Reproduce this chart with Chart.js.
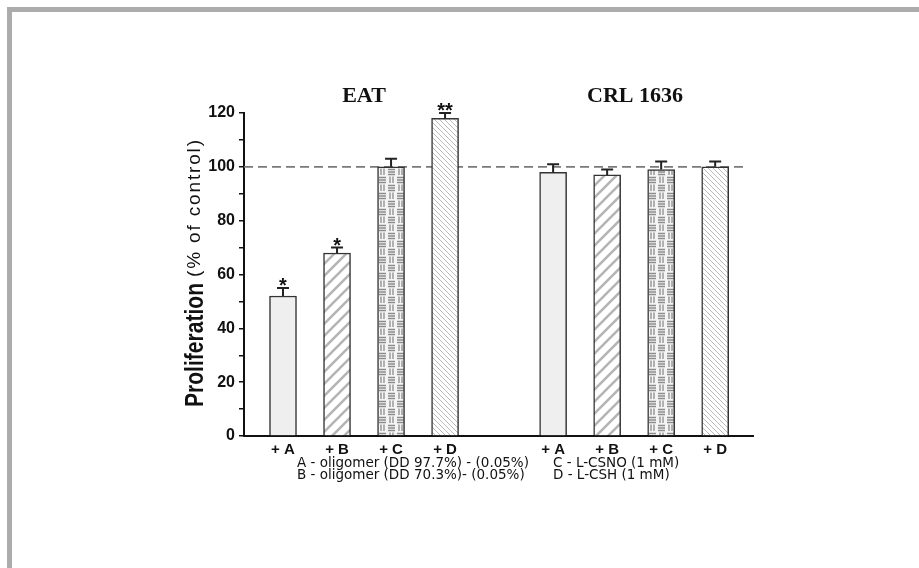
<!DOCTYPE html>
<html>
<head>
<meta charset="utf-8">
<script src="https://cdn.jsdelivr.net/npm/chart.js@4.4.0/dist/chart.umd.min.js"></script>
<style>
	html, body { margin: 0; padding: 0; background: #fff; }
	#frameTop { position: absolute; left: 7px; top: 7px; width: 912px; height: 5px; background: #acacac; }
	#frameLeft { position: absolute; left: 7px; top: 7px; width: 5px; height: 561px; background: #acacac; }
	#myChart { position: absolute; left: 0; top: 0; }
</style>
</head>
<body>
<div id="frameTop"></div>
<div id="frameLeft"></div>
<canvas id="myChart" width="919" height="568"></canvas>
<script>
// groups and treatments
const groups = ["EAT", "CRL 1636"];
const treatments = ["+ A", "+ B", "+ C", "+ D"];

// proliferation values (% of control) and upper error
const eatValues = [52, 68, 100, 118];
const eatErrors = [3, 2, 3, 2];
const eatStars = ["*", "*", "", "**"];

const crlValues = [98, 97, 99, 100];
const crlErrors = [3, 2, 3, 2];
const crlStars = ["", "", "", ""];

const yTicks = [0, 20, 40, 60, 80, 100, 120];
const controlLevel = 100;

const legendLines = [
	["A - oligomer (DD 97.7%) - (0.05%)", "C - L-CSNO (1 mM)"],
	["B - oligomer (DD 70.3%)- (0.05%)", "D - L-CSH (1 mM)"]
];

// position of each bar on the x scale (gap of one slot between groups)
const xPositions = [0, 1, 2, 3, 5, 6, 7, 8];
const xLabels = treatments.concat(treatments);
const allValues = eatValues.concat(crlValues);
const allErrors = eatErrors.concat(crlErrors);
const allStars = eatStars.concat(crlStars);

/* 패턴 만들기 */
function makePattern(kind) {
	const c = document.createElement("canvas");
	const g = c.getContext("2d");
	if (kind === "solid") {
		c.width = 4; c.height = 4;
		g.fillStyle = "#efefef";
		g.fillRect(0, 0, 4, 4);
	} else if (kind === "slash") {
		c.width = 12; c.height = 12;
		g.fillStyle = "#ffffff";
		g.fillRect(0, 0, 12, 12);
		g.strokeStyle = "#b5b5b5";
		g.lineWidth = 2.6;
		g.beginPath();
		g.moveTo(-2, 14); g.lineTo(14, -2);
		g.moveTo(-2, 2); g.lineTo(2, -2);
		g.moveTo(10, 14); g.lineTo(14, 10);
		g.stroke();
	} else if (kind === "brick") {
		c.width = 18; c.height = 16;
		g.fillStyle = "#f4f4f4";
		g.fillRect(0, 0, 18, 16);
		g.strokeStyle = "#8c8c8c";
		g.lineWidth = 1.3;
		g.beginPath();
		// row 1: horizontal lines then vertical lines
		for (let k = 0; k < 3; k++) { g.moveTo(1, 1.5 + k * 2.5); g.lineTo(8, 1.5 + k * 2.5); }
		for (let k = 0; k < 2; k++) { g.moveTo(12 + k * 3, 0.5); g.lineTo(12 + k * 3, 7); }
		// row 2: swapped
		for (let k = 0; k < 2; k++) { g.moveTo(3 + k * 3, 8.5); g.lineTo(3 + k * 3, 15); }
		for (let k = 0; k < 3; k++) { g.moveTo(10, 9.5 + k * 2.5); g.lineTo(17, 9.5 + k * 2.5); }
		g.stroke();
	} else {
		c.width = 5; c.height = 5;
		g.fillStyle = "#ffffff";
		g.fillRect(0, 0, 5, 5);
		g.strokeStyle = "#a8a8a8";
		g.lineWidth = 0.8;
		g.beginPath();
		g.moveTo(-1, -1); g.lineTo(6, 6);
		g.moveTo(-1, 4); g.lineTo(1, 6);
		g.moveTo(4, -1); g.lineTo(6, 1);
		g.stroke();
	}
	return g.createPattern(c, "repeat");
}

const patterns = [makePattern("solid"), makePattern("slash"), makePattern("brick"), makePattern("back")];
const barFills = patterns.concat(patterns);

// 에러바 + 별표
const errorBarPlugin = {
	id: "errorBars",
	afterDatasetsDraw(chart) {
		const ctx = chart.ctx;
		const yScale = chart.scales.y;
		const meta = chart.getDatasetMeta(1);
		ctx.save();
		ctx.strokeStyle = "#222";
		ctx.lineWidth = 2;
		meta.data.forEach((bar, i) => {
			const top = yScale.getPixelForValue(allValues[i] + allErrors[i]);
			ctx.beginPath();
			ctx.moveTo(bar.x, bar.y);
			ctx.lineTo(bar.x, top);
			ctx.moveTo(bar.x - 6, top);
			ctx.lineTo(bar.x + 6, top);
			ctx.stroke();
			if (allStars[i]) {
				ctx.fillStyle = "#111";
				ctx.font = "bold 20px 'Liberation Sans'";
				ctx.textAlign = "center";
				ctx.textBaseline = "alphabetic";
				ctx.fillText(allStars[i], bar.x, top + 4);
			}
		});
		ctx.restore();
	}
};

// 제목, y축 제목, 범례 글자
const textPlugin = {
	id: "texts",
	afterDraw(chart) {
		const ctx = chart.ctx;
		ctx.save();
		ctx.fillStyle = "#111";
		ctx.font = "bold 22px 'Liberation Serif'";
		ctx.textAlign = "center";
		ctx.textBaseline = "alphabetic";
		ctx.fillText(groups[0], 364, 102);
		ctx.fillText(groups[1], 635, 102);

		// y axis title
		ctx.translate(203, 273);
		ctx.rotate(-Math.PI / 2);
		ctx.textAlign = "left";
		ctx.font = "bold 26px 'Liberation Sans'";
		const w1 = ctx.measureText("Proliferation").width;
		ctx.save();
		ctx.translate(-134, 0);
		ctx.scale(124 / w1, 1);
		ctx.fillText("Proliferation", 0, 0);
		ctx.restore();
		ctx.font = "19px 'Liberation Sans'";
		const sub = "(% of control)";
		const w2 = ctx.measureText(sub).width;
		const gap = (137 - w2) / (sub.length - 1);
		let px = -4;
		for (const ch of sub) {
			ctx.fillText(ch, px, -3);
			px += ctx.measureText(ch).width + gap;
		}
		ctx.restore();

		// legend lines under the axis
		ctx.save();
		ctx.fillStyle = "#111";
		ctx.font = "13.5px 'DejaVu Sans'";
		ctx.textAlign = "left";
		ctx.textBaseline = "middle";
		legendLines.forEach((line, i) => {
			ctx.fillText(line[0], 297, 463 + i * 12);
			ctx.fillText(line[1], 553, 463 + i * 12);
		});
		ctx.restore();
	}
};

const ctx = document.getElementById("myChart").getContext("2d");
const myChart = new Chart(ctx, {
	type: "bar",
	data: {
		datasets: [
			{
				type: "line",
				label: "control",
				data: [{ x: -0.722, y: controlLevel }, { x: 8.57, y: controlLevel }],
				borderColor: "#7a7a7a",
				borderWidth: 1.6,
				borderDash: [9, 5],
				pointRadius: 0,
				order: 2,
			},
			{
				label: "Proliferation",
				data: xPositions.map((x, i) => ({ x: x, y: allValues[i] })),
				backgroundColor: barFills,
				borderColor: "#333",
				borderWidth: 1.5,
				barThickness: 27,
				order: 1,
			},
		],
	},
	options: {
		responsive: false,
		animation: false,
		layout: {
			padding: { top: 113, right: 166, bottom: 0, left: 0 },
		},
		plugins: {
			legend: { display: false },
			title: { display: false },
			tooltip: { enabled: false },
		},
		scales: {
			x: {
				type: "linear",
				offset: false,
				min: -0.722,
				max: 8.7,
				afterBuildTicks: (scale) => {
					scale.ticks = xPositions.map(v => ({ value: v }));
				},
				afterFit: (scale) => { scale.height = 132; },
				ticks: {
					autoSkip: false,
					maxRotation: 0,
					padding: 5,
					color: "#111",
					font: { size: 15, weight: "bold", family: "'Liberation Sans'" },
					callback: (v) => {
						const i = xPositions.indexOf(v);
						return i >= 0 ? xLabels[i] : "";
					},
				},
				grid: { display: false, drawTicks: false, offset: false },
				border: { display: true, color: "#111", width: 2 },
			},
			y: {
				min: 0,
				max: 120,
				afterBuildTicks: (scale) => {
					const t = [];
					for (let v = 0; v <= 120; v += 10) t.push({ value: v });
					scale.ticks = t;
				},
				afterFit: (scale) => { scale.width = 244; },
				ticks: {
					padding: 4,
					color: "#111",
					font: { size: 16, weight: "bold", family: "'Liberation Sans'" },
					callback: (v) => (yTicks.includes(v) ? v : ""),
				},
				grid: {
					display: true,
					drawOnChartArea: false,
					drawTicks: true,
					tickLength: 5,
					color: "#111",
					lineWidth: 1.5,
				},
				border: { display: true, color: "#111", width: 2 },
			},
		},
	},
	plugins: [errorBarPlugin, textPlugin],
});
</script>
</body>
</html>
